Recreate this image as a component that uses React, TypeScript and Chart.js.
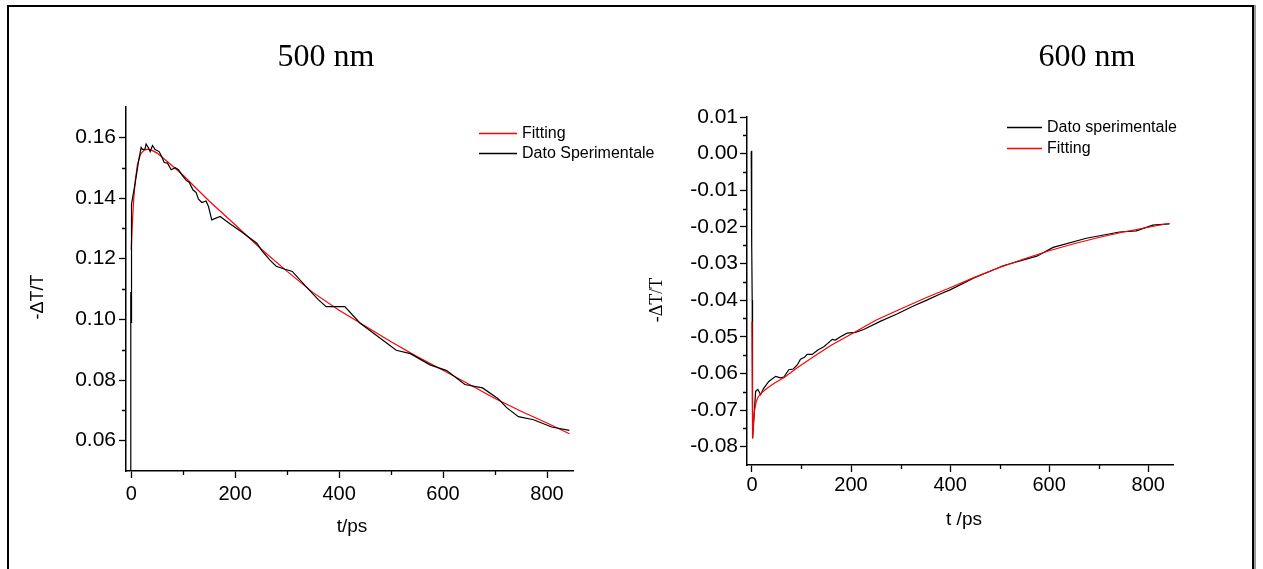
import React, { useEffect, useRef } from "react";
import { Chart, registerables } from "chart.js";

Chart.register(...registerables);

// ---------- 500 nm panel ----------
const leftExpT = [
  -2, -1, -0.6, -0.3, 0, 0.4, 0.8, 1.3, 7.7, 14,
  19.2, 21.7, 26.3, 28.8, 33.3, 36.5, 41, 46, 53.8, 59,
  63.5, 69.8, 77, 84.6, 91, 97.5, 105.8, 111.5, 118.7, 125,
  129.4, 136, 144, 148.7, 155, 171, 190, 216, 241.7, 252,
  267, 279, 296, 310, 335, 360, 375, 411, 440, 510,
  537, 575, 607, 642, 676, 706, 723, 745, 774, 809,
  843,
];
const leftExpV = [
  0.002, 0.098, 0.109, 0.099, 0.125, 0.131, 0.128, 0.138, 0.145, 0.152,
  0.1567, 0.156, 0.156, 0.1578, 0.1565, 0.1553, 0.1573, 0.156, 0.1553, 0.1535,
  0.1517, 0.1515, 0.1493, 0.15, 0.1493, 0.1476, 0.1458, 0.1452, 0.1427, 0.1418,
  0.1396, 0.1385, 0.139, 0.1372, 0.1328, 0.1339, 0.1315, 0.1284, 0.1251, 0.1225,
  0.1195, 0.1175, 0.1165, 0.1158, 0.111, 0.1065, 0.1042, 0.1042, 0.0988, 0.0898,
  0.0887, 0.085, 0.0831, 0.0785, 0.0774, 0.0738, 0.0708, 0.0679, 0.0669, 0.0645,
  0.0634,
];
const leftFitT = [
  0, 2, 5, 8, 12, 18, 25, 32, 40, 50, 75, 100, 125, 150,
  200, 250, 300, 350, 400, 450, 500, 550, 600, 650, 700, 750, 800, 843,
];
const leftFitV = [
  0.123, 0.131, 0.14, 0.146, 0.151, 0.1545, 0.1558, 0.1561, 0.1557, 0.1548, 0.1512, 0.1475, 0.1432, 0.139,
  0.1312, 0.1232, 0.1158, 0.1088, 0.103, 0.0978, 0.0926, 0.0877, 0.0832, 0.0786, 0.0739, 0.0697, 0.0658, 0.0623,
];
const leftYMajor = [0.06, 0.08, 0.1, 0.12, 0.14, 0.16];
const leftYMinor = [0.07, 0.09, 0.11, 0.13, 0.15];

// ---------- 600 nm panel ----------
const rightExpT = [
  -1.5, -1, -0.5, 0, 0.5, 1.2, 3, 7.4, 12,
  17.5, 23, 34, 47.7, 57.8, 64.4, 74.5, 83.3, 91.4, 98,
  106, 111.5, 121.6, 133, 145, 153, 162, 168.5, 178.6, 192,
  208.8, 225.5, 259, 292.7, 326, 353, 380, 400, 447, 507,
  575, 608, 675, 742, 776, 809, 843,
];
const rightExpV = [
  0.0006, -0.024, 0.0008, -0.025, -0.04, -0.0776, -0.0744, -0.0649, -0.0644,
  -0.0658, -0.0642, -0.0622, -0.0608, -0.0612, -0.061, -0.059, -0.0588, -0.0577, -0.0561,
  -0.0556, -0.0548, -0.0548, -0.0536, -0.0527, -0.0518, -0.0507, -0.0509, -0.05, -0.049,
  -0.0488, -0.048, -0.0458, -0.0438, -0.0416, -0.04, -0.0383, -0.0372, -0.034, -0.0306,
  -0.028, -0.0256, -0.0231, -0.0214, -0.0211, -0.0195, -0.0192,
];
const rightFitT = [
  0, 1.5, 3, 5, 8, 12, 20, 30, 45, 65, 90, 125, 160,
  200, 250, 300, 350, 400, 450, 500, 550, 600, 650, 700, 750, 800, 843,
];
const rightFitV = [
  -0.0458, -0.0778, -0.0735, -0.0702, -0.068, -0.0665, -0.0652, -0.0641, -0.0627, -0.0611, -0.0586, -0.0554, -0.0523,
  -0.0493, -0.0455, -0.0424, -0.0394, -0.0366, -0.0337, -0.0311, -0.0287, -0.0265, -0.0246, -0.0229, -0.0214, -0.0201, -0.019,
];
const rightYMajor = [-0.08, -0.07, -0.06, -0.05, -0.04, -0.03, -0.02, -0.01, 0.0, 0.01];
const rightYMinor = [-0.075, -0.065, -0.055, -0.045, -0.035, -0.025, -0.015, -0.005, 0.005];

// shared time axis ticks
const xMajorTicks = [0, 200, 400, 600, 800];
const xMinorTicks = [100, 300, 500, 700];

const SANS = '"Liberation Sans", Arial, Helvetica, sans-serif';
const SERIF = '"Liberation Serif", "Times New Roman", serif';

const toPoints = (t: number[], v: number[]) => t.map((x, i) => ({ x, y: v[i] }));

const decorPlugin = {
  id: "decor",
  afterDraw(chart: any, _args: any, opts: any) {
    const ctx = chart.ctx as CanvasRenderingContext2D;
    const area = chart.chartArea;
    const xs = chart.scales.x;
    const ys = chart.scales.y;
    ctx.save();
    // minor ticks
    ctx.strokeStyle = "#000";
    ctx.lineWidth = 1.3;
    ctx.beginPath();
    for (const v of opts.xMinor) {
      const px = Math.round(xs.getPixelForValue(v)) + 0.5;
      ctx.moveTo(px, area.bottom);
      ctx.lineTo(px, area.bottom + 4);
    }
    for (const v of opts.yMinor) {
      const py = Math.round(ys.getPixelForValue(v)) + 0.5;
      ctx.moveTo(area.left, py);
      ctx.lineTo(area.left - 4, py);
    }
    ctx.stroke();

    ctx.fillStyle = "#000";
    // panel title
    ctx.font = `${opts.title.size}px ${SERIF}`;
    ctx.textAlign = "center";
    ctx.textBaseline = "middle";
    ctx.fillText(opts.title.text, opts.title.x, opts.title.y);

    // x title
    ctx.font = `${opts.xTitle.size}px ${SANS}`;
    ctx.fillText(opts.xTitle.text, opts.xTitle.x, opts.xTitle.y);

    // y title (rotated)
    ctx.save();
    ctx.translate(opts.yTitle.x, opts.yTitle.y);
    ctx.rotate(-Math.PI / 2);
    ctx.font = `${opts.yTitle.size}px ${opts.yTitle.serif ? SERIF : SANS}`;
    ctx.fillText(opts.yTitle.text, 0, 0);
    ctx.restore();

    // legend (inside plot, top-right)
    const lg = opts.legend;
    ctx.font = `${lg.size}px ${SANS}`;
    ctx.textAlign = "left";
    chart.data.datasets.forEach((ds: any, i: number) => {
      const y = lg.y + i * lg.rowGap;
      ctx.strokeStyle = ds.borderColor;
      ctx.lineWidth = 1.3;
      ctx.beginPath();
      ctx.moveTo(lg.x1, y + 0.5);
      ctx.lineTo(lg.x2, y + 0.5);
      ctx.stroke();
      ctx.fillStyle = "#000";
      ctx.fillText(ds.label, lg.xText, y + 1);
    });
    ctx.restore();
  },
};

function buildConfig(p: any): any {
  return {
    type: "line",
    data: {
      datasets: p.series.map((s: any) => ({
        label: s.label,
        data: toPoints(s.t, s.v),
        borderColor: s.color,
        backgroundColor: s.color,
        borderWidth: 1.2,
        pointRadius: 0,
        fill: false,
        tension: 0,
        order: s.order,
      })),
    },
    options: {
      responsive: false,
      animation: false,
      devicePixelRatio: 1,
      events: [],
      layout: { padding: p.padding },
      plugins: {
        legend: { display: false },
        tooltip: { enabled: false },
        title: { display: false },
        decor: p.decor,
      },
      scales: {
        x: {
          type: "linear",
          min: -10,
          max: 850,
          afterBuildTicks: (s: any) => {
            s.ticks = xMajorTicks.map((v) => ({ value: v }));
          },
          afterFit: (s: any) => {
            s.height = p.xAxisHeight;
          },
          ticks: {
            autoSkip: false,
            maxRotation: 0,
            color: "#000",
            padding: p.xTickPad,
            font: { family: SANS, size: 20 },
            callback: (v: any) => String(v),
          },
          grid: {
            display: true,
            drawOnChartArea: false,
            drawTicks: true,
            tickLength: 7,
            tickColor: "#000",
            tickWidth: 1.3,
          },
          border: { display: true, color: "#000", width: 1.5 },
        },
        y: {
          type: "linear",
          min: p.yMin,
          max: p.yMax,
          afterBuildTicks: (s: any) => {
            s.ticks = p.yMajor.map((v: number) => ({ value: v }));
          },
          afterFit: (s: any) => {
            s.width = p.yAxisWidth;
          },
          ticks: {
            autoSkip: false,
            color: "#000",
            padding: p.yTickPad,
            font: { family: SANS, size: 21 },
            callback: (v: any) => Number(v).toFixed(2),
          },
          grid: {
            display: true,
            drawOnChartArea: false,
            drawTicks: true,
            tickLength: 7,
            tickColor: "#000",
            tickWidth: 1.3,
          },
          border: { display: true, color: "#000", width: 1.5 },
        },
      },
    },
    plugins: [decorPlugin],
  };
}

const leftPanel = {
  series: [
    { label: "Fitting", t: leftFitT, v: leftFitV, color: "#ff0000", order: 1 },
    { label: "Dato Sperimentale", t: leftExpT, v: leftExpV, color: "#000000", order: 0 },
  ],
  yMin: 0.05,
  yMax: 0.17,
  yMajor: leftYMajor,
  padding: { left: 0, top: 107, right: 127, bottom: 38 },
  xAxisHeight: 60,
  yAxisWidth: 126,
  xTickPad: 4,
  yTickPad: 3,
  decor: {
    xMinor: xMinorTicks,
    yMinor: leftYMinor,
    title: { text: "500 nm", x: 326, y: 58, size: 32 },
    xTitle: { text: "t/ps", x: 352, y: 527, size: 19 },
    yTitle: { text: "-ΔT/T", x: 38, y: 297, size: 18, serif: false },
    legend: { x1: 479, x2: 517, xText: 522, y: 133, rowGap: 20, size: 16 },
  },
};

const rightPanel = {
  series: [
    { label: "Dato sperimentale", t: rightExpT, v: rightExpV, color: "#000000", order: 1 },
    { label: "Fitting", t: rightFitT, v: rightFitV, color: "#ff0000", order: 0 },
  ],
  yMin: -0.085,
  yMax: 0.01,
  yMajor: rightYMajor,
  padding: { left: 0, top: 117, right: 90, bottom: 44 },
  xAxisHeight: 60,
  yAxisWidth: 117,
  xTickPad: 1,
  yTickPad: 2,
  decor: {
    xMinor: xMinorTicks,
    yMinor: rightYMinor,
    title: { text: "600 nm", x: 457, y: 58, size: 32 },
    xTitle: { text: "t /ps", x: 334, y: 520, size: 19 },
    yTitle: { text: "-ΔT/T", x: 27, y: 300, size: 18, serif: true },
    legend: { x1: 377, x2: 412, xText: 417, y: 127, rowGap: 21, size: 16 },
  },
};

export default function App() {
  const leftRef = useRef<HTMLCanvasElement>(null);
  const rightRef = useRef<HTMLCanvasElement>(null);

  useEffect(() => {
    const c1 = new Chart(leftRef.current as HTMLCanvasElement, buildConfig(leftPanel));
    const c2 = new Chart(rightRef.current as HTMLCanvasElement, buildConfig(rightPanel));
    return () => {
      c1.destroy();
      c2.destroy();
    };
  }, []);

  return (
    <div
      style={{
        position: "fixed",
        left: 0,
        top: 0,
        width: 1263,
        height: 569,
        background: "#fff",
        overflow: "hidden",
      }}
    >
      <div
        style={{
          position: "absolute",
          left: 7,
          top: 5,
          width: 1243,
          height: 620,
          borderTop: "2px solid #000",
          borderLeft: "2px solid #000",
          borderRight: "2px solid #000",
          boxShadow: "2px 0 0 #999",
        }}
      />
      <canvas
        ref={leftRef}
        width={700}
        height={569}
        style={{ position: "absolute", left: 0, top: 0, width: 700, height: 569 }}
      />
      <canvas
        ref={rightRef}
        width={633}
        height={569}
        style={{ position: "absolute", left: 630, top: 0, width: 633, height: 569 }}
      />
    </div>
  );
}
